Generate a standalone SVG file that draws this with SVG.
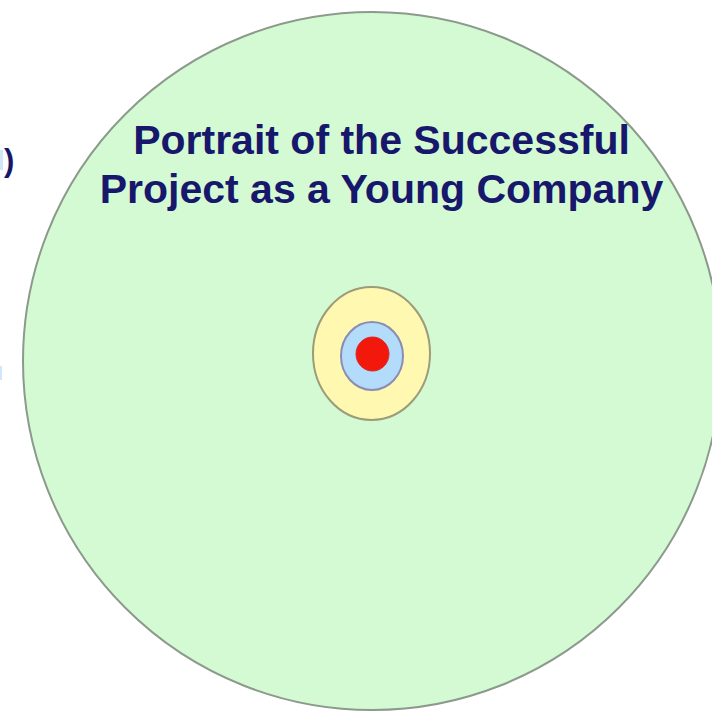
<svg xmlns="http://www.w3.org/2000/svg" width="712" height="711" viewBox="0 0 712 711">
  <style>
    .title { font-family: "Liberation Sans", Arial, sans-serif; font-weight: bold; fill: #17176b; }
    .ring { stroke-width: 2; }
  </style>
  <rect x="0" y="0" width="712" height="711" fill="#ffffff"/>

  <!-- clipped fragments at the left margin -->
  <g id="left-fragments">
    <rect x="0" y="150" width="3" height="20" fill="#cfe6fb"/>
    <rect x="0" y="366" width="2" height="14" fill="#cfe6fb"/>
    <text class="title" x="4" y="171" font-size="31">)</text>
  </g>

  <!-- outer field -->
  <g id="company">
    <circle cx="372" cy="361" r="349" fill="#d4fad4" stroke="#8c9a8c" stroke-width="2"/>
  </g>

  <g id="title">
    <text class="title" x="381.5" y="154" font-size="41" text-anchor="middle">Portrait of the Successful</text>
    <text class="title" x="381.5" y="203" font-size="41" text-anchor="middle">Project as a Young Company</text>
  </g>

  <!-- concentric target -->
  <g id="yellow-ring">
    <ellipse class="ring" cx="371.5" cy="353.5" rx="58.5" ry="66.5" fill="#fff8b0" stroke="#9c9c78"/>
  </g>
  <g id="blue-ring">
    <ellipse class="ring" cx="372" cy="356" rx="31" ry="34" fill="#b2dcfa" stroke="#8c8cb4"/>
  </g>
  <g id="red-core">
    <ellipse cx="372.5" cy="354" rx="16.5" ry="17" fill="#f2190c" stroke="#d82a2a" stroke-width="1"/>
  </g>
</svg>
